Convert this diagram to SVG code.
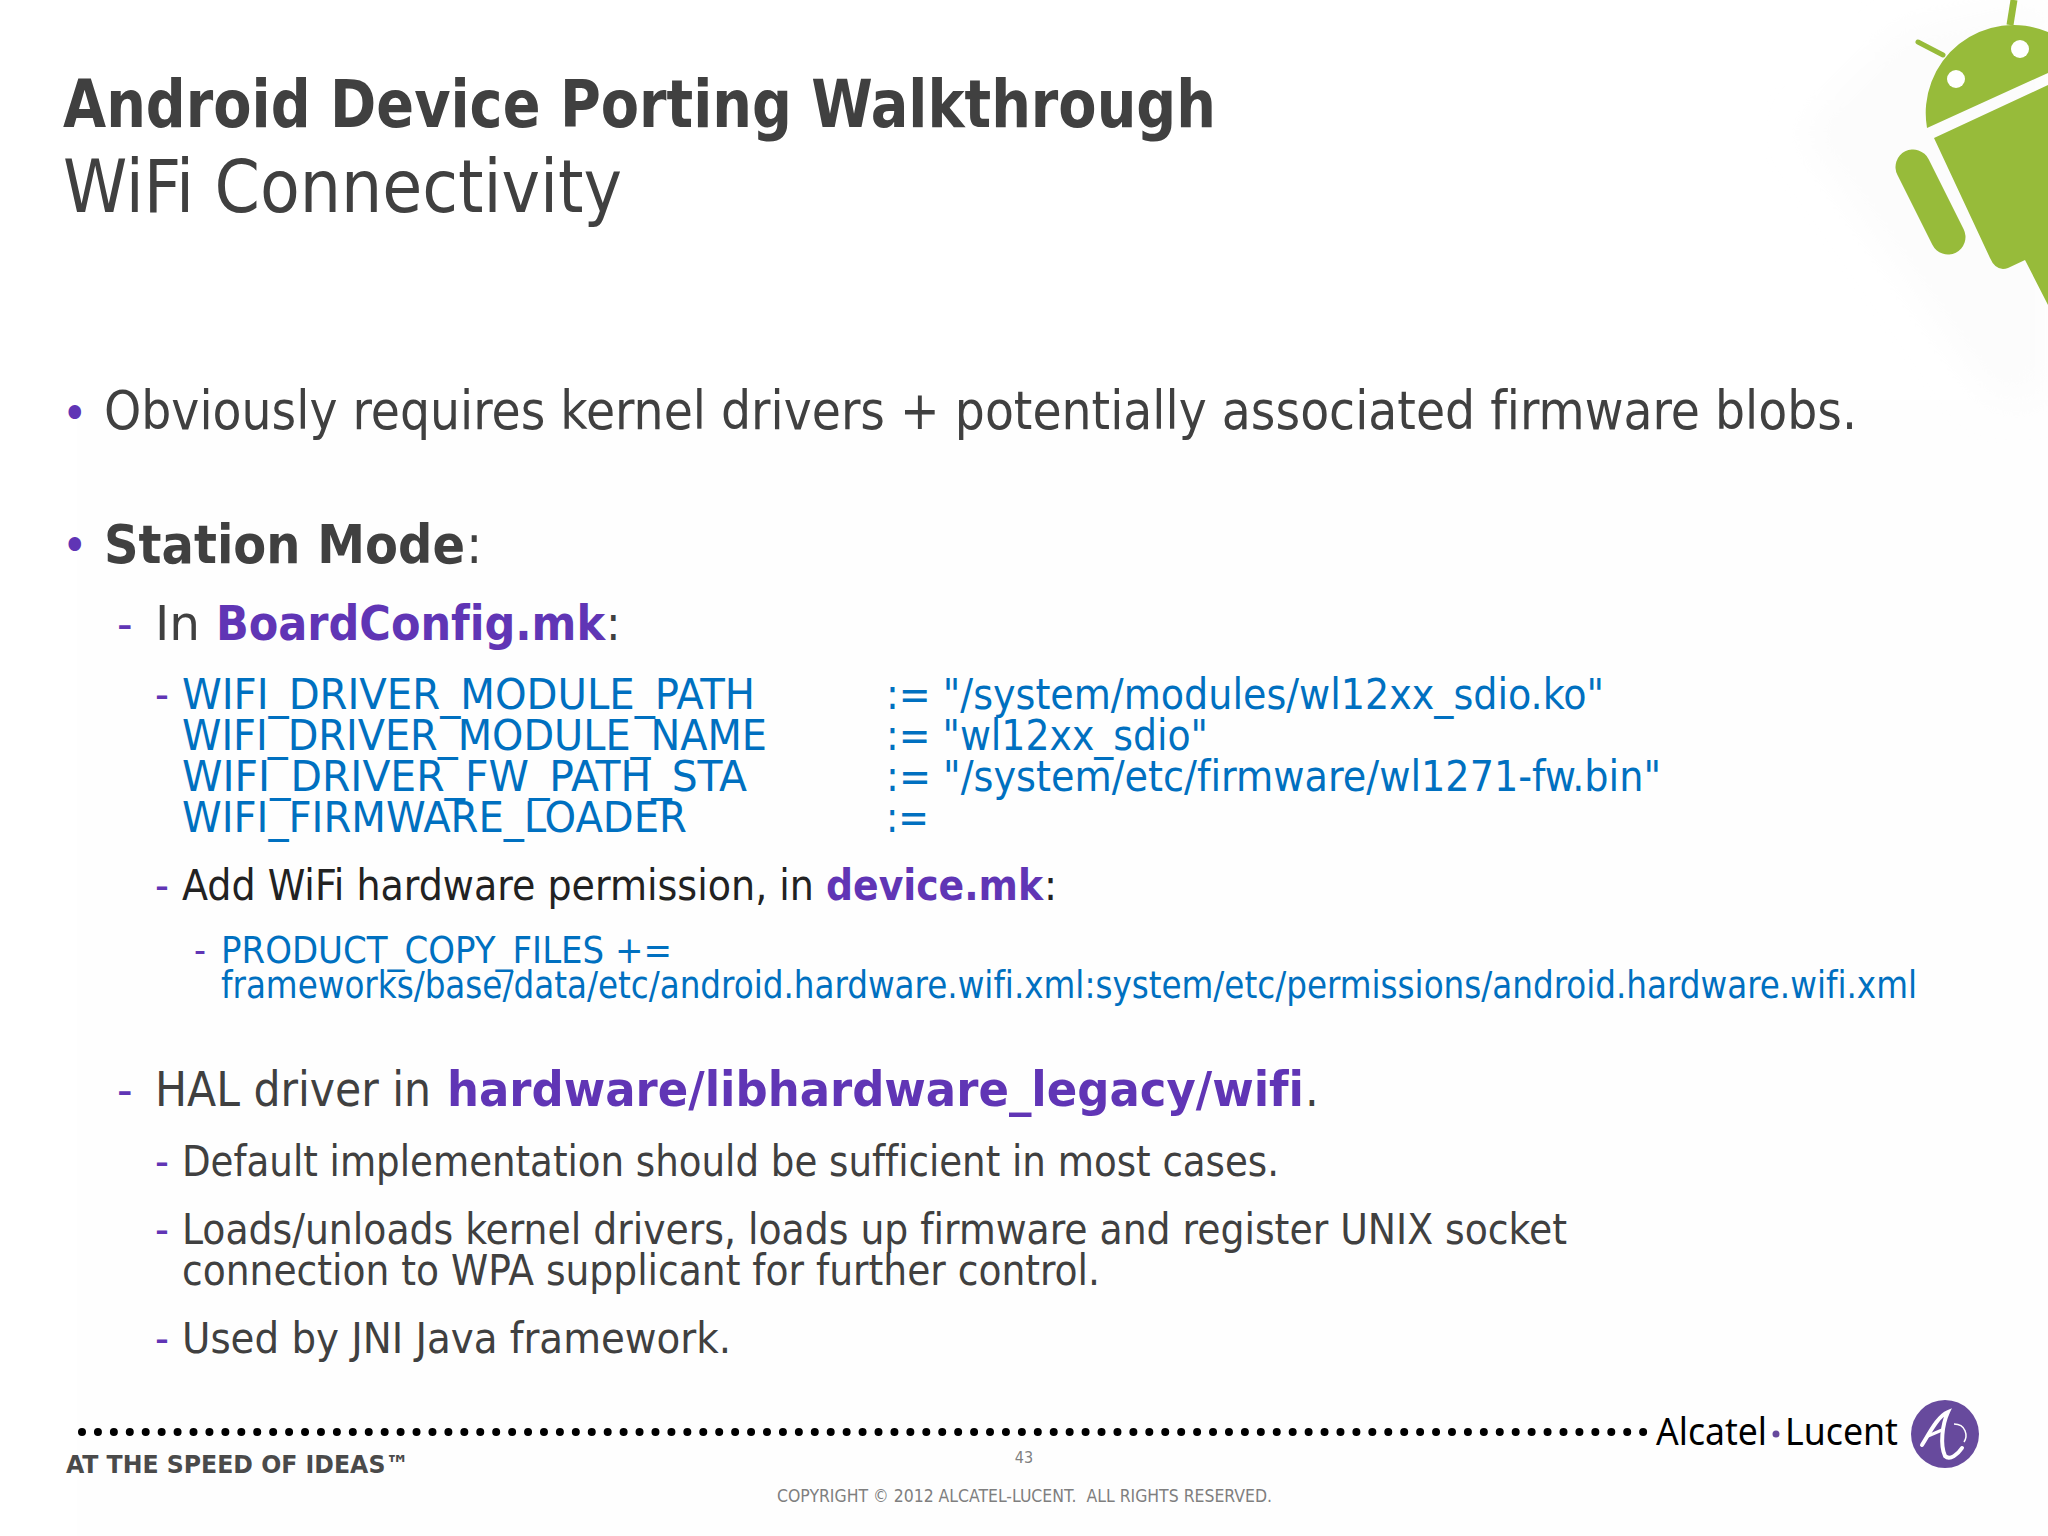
<svg xmlns="http://www.w3.org/2000/svg" width="2048" height="1536" viewBox="0 0 2048 1536">
<style>
text{font-family:"DejaVu Sans Condensed","DejaVu Sans",sans-serif;font-stretch:condensed;white-space:pre;font-variant-ligatures:none}
.g{fill:#404040}.b{fill:#0070c0}.p{fill:#6035b5}.k{fill:#222222}
.bd{font-weight:700}
.s1{font-size:54px}.s2{font-size:48px}.s3{font-size:43px}.s4{font-size:37px}
.lg{font-family:"Noto Sans","Open Sans",sans-serif;font-stretch:normal;font-size:38px;fill:#000}
</style>
<defs><filter id="soft" x="-20%" y="-20%" width="140%" height="140%"><feGaussianBlur stdDeviation="18"/></filter></defs>
<rect width="2048" height="1536" fill="#ffffff"/>
<rect x="77" y="400" width="1971" height="1136" fill="#fefefe"/>
<path d="M1800,130 L1900,30 L2048,0 L2048,400 L1990,400 Z" fill="#fcfcfc" filter="url(#soft)"/>
<g id="android" fill="#97bb3a">
<path d="M1927,128 A88,88 0 0 1 2048,32 L2048,73 Z"/>
<circle cx="1956" cy="79" r="9" fill="#fff"/><circle cx="2020" cy="49" r="9" fill="#fff"/>
<path d="M1918,42 L1943,55" stroke="#97bb3a" stroke-width="5" stroke-linecap="round"/>
<path d="M2014,0 L2010,25" stroke="#97bb3a" stroke-width="7"/>
<path d="M1913,167 L1948,237" stroke="#97bb3a" stroke-width="35" stroke-linecap="round"/>
<path d="M1934,138 L2048,85 L2048,305 L2025,260 L2008,268 Q1996,272 1990,258 Z"/>
</g>
<g id="title">
<text x="63" y="127" class="g bd" font-size="65" textLength="1153" lengthAdjust="spacingAndGlyphs">Android Device Porting Walkthrough</text>
<text x="63" y="212" class="g" font-size="73" textLength="559" lengthAdjust="spacingAndGlyphs">WiFi Connectivity</text>
</g>
<g id="body">
<text x="62" y="430" class="p" font-size="48">•</text>
<text x="104" y="429" class="g s1" textLength="1753" lengthAdjust="spacingAndGlyphs">Obviously requires kernel drivers + potentially associated firmware blobs.</text>
<text x="62" y="562" class="p" font-size="48">•</text>
<text x="104" y="563" class="g s1 bd" textLength="361" lengthAdjust="spacingAndGlyphs">Station Mode</text>
<text x="466" y="563" class="g s1">:</text>
<text x="117" y="640" class="p s2">-</text>
<text x="155" y="640" class="g s2" textLength="45" lengthAdjust="spacingAndGlyphs">In</text>
<text x="216" y="640" class="p s2 bd" textLength="389" lengthAdjust="spacingAndGlyphs">BoardConfig.mk</text>
<text x="606" y="640" class="g s2">:</text>
<text x="155" y="709" class="p s3">-</text>
<text x="182" y="709" class="b s3" textLength="573" lengthAdjust="spacingAndGlyphs">WIFI_DRIVER_MODULE_PATH</text>
<text x="182" y="750" class="b s3" textLength="585" lengthAdjust="spacingAndGlyphs">WIFI_DRIVER_MODULE_NAME</text>
<text x="182" y="791" class="b s3" textLength="565" lengthAdjust="spacingAndGlyphs">WIFI_DRIVER_FW_PATH_STA</text>
<text x="182" y="832" class="b s3" textLength="505" lengthAdjust="spacingAndGlyphs">WIFI_FIRMWARE_LOADER</text>
<text x="886" y="709" class="b s3" textLength="718" lengthAdjust="spacingAndGlyphs">:= "/system/modules/wl12xx_sdio.ko"</text>
<text x="886" y="750" class="b s3" textLength="322" lengthAdjust="spacingAndGlyphs">:= "wl12xx_sdio"</text>
<text x="886" y="791" class="b s3" textLength="775" lengthAdjust="spacingAndGlyphs">:= "/system/etc/firmware/wl1271-fw.bin"</text>
<text x="886" y="832" class="b s3" textLength="43" lengthAdjust="spacingAndGlyphs">:=</text>
<text x="155" y="900" class="p s3">-</text>
<text x="182" y="900" class="k s3" textLength="632" lengthAdjust="spacingAndGlyphs">Add WiFi hardware permission, in</text>
<text x="826" y="900" class="p s3 bd" textLength="217" lengthAdjust="spacingAndGlyphs">device.mk</text>
<text x="1044" y="900" class="k s3">:</text>
<text x="194" y="963" class="p s4">-</text>
<text x="221" y="963" class="b s4" textLength="451" lengthAdjust="spacingAndGlyphs">PRODUCT_COPY_FILES +=</text>
<text x="221" y="998" class="b s4" textLength="1696" lengthAdjust="spacingAndGlyphs">frameworks/base/data/etc/android.hardware.wifi.xml:system/etc/permissions/android.hardware.wifi.xml</text>
<text x="117" y="1106" class="p s2">-</text>
<text x="155" y="1106" class="g s2" textLength="276" lengthAdjust="spacingAndGlyphs">HAL driver in</text>
<text x="447" y="1106" class="p s2 bd" textLength="857" lengthAdjust="spacingAndGlyphs">hardware/libhardware_legacy/wifi</text>
<text x="1305" y="1106" class="g s2">.</text>
<text x="155" y="1176" class="p s3">-</text>
<text x="182" y="1176" class="g s3" textLength="1097" lengthAdjust="spacingAndGlyphs">Default implementation should be sufficient in most cases.</text>
<text x="155" y="1244" class="p s3">-</text>
<text x="182" y="1244" class="g s3" textLength="1385" lengthAdjust="spacingAndGlyphs">Loads/unloads kernel drivers, loads up firmware and register UNIX socket</text>
<text x="182" y="1285" class="g s3" textLength="918" lengthAdjust="spacingAndGlyphs">connection to WPA supplicant for further control.</text>
<text x="155" y="1353" class="p s3">-</text>
<text x="182" y="1353" class="g s3" textLength="549" lengthAdjust="spacingAndGlyphs">Used by JNI Java framework.</text>
</g>
<g id="footer">
<line x1="82" y1="1432" x2="1645" y2="1432" stroke="#000" stroke-width="8" stroke-linecap="round" stroke-dasharray="0 15.93"/>
<text x="66" y="1473" font-size="25" fill="#4a4a4a" class="bd" textLength="343" lengthAdjust="spacingAndGlyphs">AT THE SPEED OF IDEAS™</text>
<text x="1024" y="1463" font-size="16" fill="#7f7f7f" text-anchor="middle">43</text>
<text x="777" y="1502" font-size="17" fill="#7f7f7f" textLength="495" lengthAdjust="spacingAndGlyphs">COPYRIGHT © 2012 ALCATEL-LUCENT.  ALL RIGHTS RESERVED.</text>
</g>
<g id="logo">
<text x="1656" y="1445" class="lg" textLength="111" lengthAdjust="spacingAndGlyphs">Alcatel</text>
<circle cx="1776" cy="1434" r="3.5" fill="#674a9d"/>
<text x="1785" y="1445" class="lg" textLength="113" lengthAdjust="spacingAndGlyphs">Lucent</text>
<circle cx="1945" cy="1434" r="34" fill="#674a9d"/>
<path d="M1922,1445 C1930,1432 1938,1416 1948,1412 C1942,1425 1940,1445 1945,1456 C1950,1461 1958,1454 1962,1448" fill="none" stroke="#fff" stroke-width="4" stroke-linecap="round"/>
<path d="M1928,1436 L1942,1430" fill="none" stroke="#fff" stroke-width="3"/>
<path d="M1954,1424 C1966,1424 1968,1436 1964,1442" fill="none" stroke="#fff" stroke-width="1.5"/>
</g>
</svg>
